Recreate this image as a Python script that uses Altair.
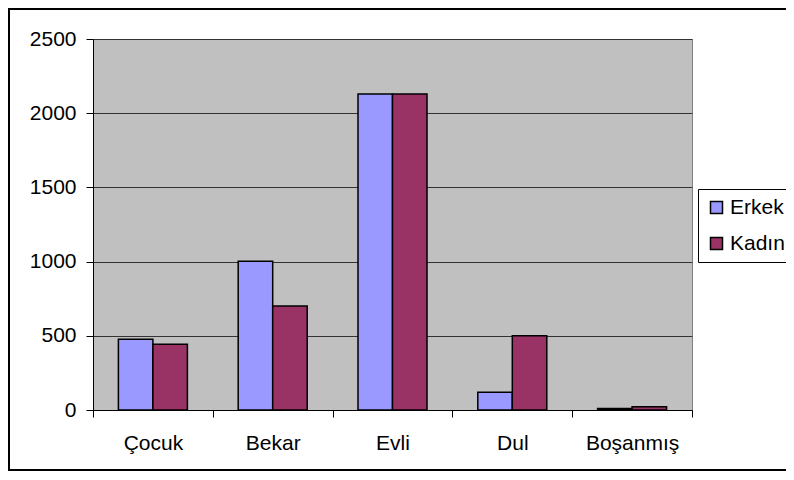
import altair as alt
import pandas as pd

categories = ["Çocuk", "Bekar", "Evli", "Dul", "Boşanmış"]
series = ["Erkek", "Kadın"]
erkek = [477, 1003, 2130, 120, 10]
kadin = [443, 700, 2130, 500, 22]
colors = ["#9999FF", "#993366"]
y_ticks = [0, 500, 1000, 1500, 2000, 2500]

rows = []
for i, c in enumerate(categories):
    rows.append({"Kategori": c, "Cins": "Erkek", "Deger": erkek[i]})
    rows.append({"Kategori": c, "Cins": "Kadın", "Deger": kadin[i]})
df = pd.DataFrame(rows)

FONT = "Liberation Sans"
FS = 21

bars = alt.Chart(df).mark_bar(stroke="black", strokeWidth=1.5).encode(
    x=alt.X("Kategori:N", sort=categories,
            scale=alt.Scale(paddingInner=0, paddingOuter=0),
            axis=alt.Axis(title=None, labelAngle=0, tickBand="extent", grid=False,
                          domainColor="black", tickColor="black", tickSize=7,
                          labelFontSize=FS, labelFont=FONT, labelColor="black",
                          labelPadding=15)),
    xOffset=alt.XOffset("Cins:N", sort=series,
                        scale=alt.Scale(paddingInner=0, paddingOuter=0.736)),
    y=alt.Y("Deger:Q", scale=alt.Scale(domain=[0, 2500], nice=False),
            axis=alt.Axis(title=None, values=y_ticks, format="d", grid=True,
                          gridColor="#333333", gridWidth=1, domainColor="black",
                          tickColor="black", tickSize=7, labelFontSize=FS,
                          labelFont=FONT, labelColor="black", labelPadding=10)),
    color=alt.Color("Cins:N", sort=series,
                    scale=alt.Scale(domain=series, range=colors),
                    legend=alt.Legend(title=None, orient="none", legendX=605, legendY=150,
                                      fillColor="white", strokeColor="black", padding=8,
                                      symbolType="square", symbolSize=144,
                                      symbolStrokeColor="black", symbolStrokeWidth=1.5,
                                      labelFontSize=FS, labelFont=FONT, labelColor="black",
                                      rowPadding=14, symbolOffset=0, labelOffset=3)),
)

frame = alt.Chart(alt.Data(values=[{"a": 1}])).mark_rect(
    fillOpacity=0, stroke="black", strokeWidth=2
).encode(
    x=alt.value(-84), x2=alt.value(707), y=alt.value(-30), y2=alt.value(431)
)

chart = alt.layer(bars, frame).properties(
    width=599, height=371,
    autosize=alt.AutoSizeParams(type="none"),
    padding={"left": 85, "top": 31, "right": 94, "bottom": 62},
    background="white",
).configure_view(fill="#C0C0C0", stroke="#808080", strokeWidth=1)

chart.save("out.html", embed_options={"renderer": "svg", "actions": False})
